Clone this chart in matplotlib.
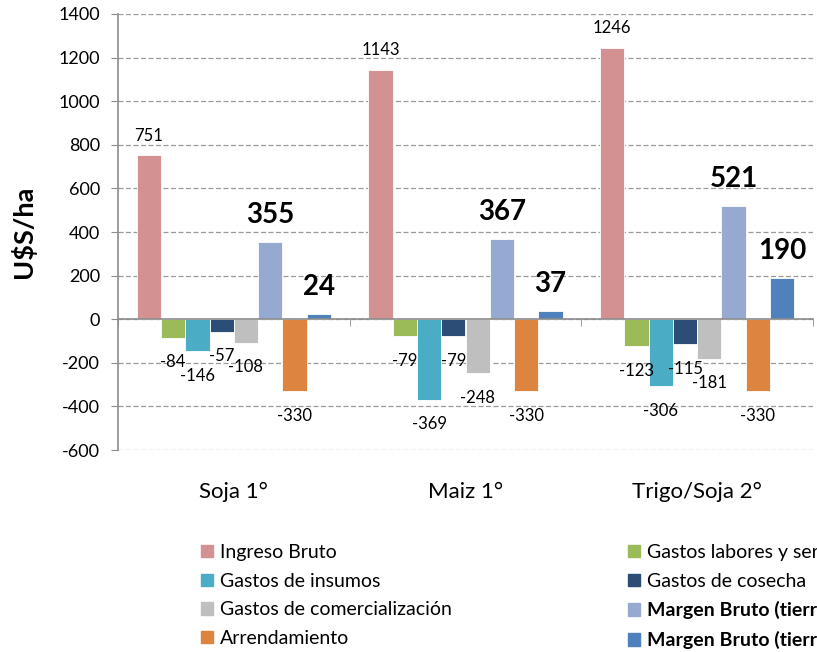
import numpy as np
import matplotlib
matplotlib.use("Agg")
import matplotlib.pyplot as plt
from matplotlib.patches import Patch

plt.rcParams["font.family"] = ["Lato", "DejaVu Sans"]
plt.rcParams["axes.unicode_minus"] = False

categories = ["Soja 1°", "Maiz 1°", "Trigo/Soja 2°"]
series = [
    "Ingreso Bruto",
    "Gastos labores y servicios",
    "Gastos de insumos",
    "Gastos de cosecha",
    "Gastos de comercialización",
    "Margen Bruto (tierra propia)",
    "Arrendamiento",
    "Margen Bruto (tierra arrendada)",
]
ingreso = [751, 1143, 1246]
labores = [-84, -79, -123]
insumos = [-146, -369, -306]
cosecha = [-57, -79, -115]
comercializacion = [-108, -248, -181]
margen_propia = [355, 367, 521]
arrendamiento = [-330, -330, -330]
margen_arrendada = [24, 37, 190]

values = [ingreso, labores, insumos, cosecha, comercializacion,
          margen_propia, arrendamiento, margen_arrendada]
colors = ["#D39291", "#9BBB59", "#4BACC6", "#2C4D75", "#BFBFBF",
          "#95A9D1", "#DD843F", "#4F81BD"]
bold = [False, False, False, False, False, True, False, True]

fig = plt.figure(figsize=(8.17, 6.52), dpi=100)
ax = fig.add_axes([118 / 817, 1 - 450 / 652, 695 / 817, 436 / 652])

x = np.arange(len(categories))
w = 0.105
n = len(series)
for i, (vals, col) in enumerate(zip(values, colors)):
    pos = x + (i - (n - 1) / 2) * w
    bars = ax.bar(pos, vals, w, color=col, edgecolor="white", linewidth=0.6,
                  label=series[i], zorder=3)
    for b, v in zip(bars, vals):
        cx = b.get_x() + b.get_width() / 2
        if bold[i]:
            ax.annotate(str(v), (cx, v), xytext=(0, 10), textcoords="offset points",
                        ha="center", va="bottom", fontsize=20, fontweight="bold",
                        zorder=4)
        else:
            off = 8.5 if v >= 0 else -12
            ax.annotate(str(v), (cx, v), xytext=(0, off), textcoords="offset points",
                        ha="center", va="bottom" if v >= 0 else "top",
                        fontsize=12, zorder=4)

ax.set_xlim(-0.5, 2.5)
ax.set_ylim(-600, 1400)
ax.set_yticks(np.arange(-600, 1401, 200))
ax.yaxis.grid(True, linestyle=(0, (4, 2)), color="#9A9A9A", linewidth=0.9, zorder=0)
ax.tick_params(axis="y", labelsize=13, length=5, color="#8C8C8C", pad=8)

for s in ["top", "right"]:
    ax.spines[s].set_visible(False)
ax.spines["left"].set_color("#8C8C8C")
ax.spines["left"].set_linewidth(1.2)
ax.spines["bottom"].set_position(("data", 0))
ax.spines["bottom"].set_color("#8C8C8C")
ax.spines["bottom"].set_linewidth(1.2)
ax.spines["bottom"].set_zorder(5)
ax.set_xticks(x)
ax.set_xticklabels([])
ax.tick_params(axis="x", which="major", length=0)
ax.set_xticks(np.arange(-0.5, 2.6, 1), minor=True)
ax.tick_params(axis="x", which="minor", length=5, color="#8C8C8C", direction="out")

for xi, c in zip(x, categories):
    ax.text(xi, -0.097, c, transform=ax.get_xaxis_transform(),
            ha="center", va="center", fontsize=16)

ax.set_ylabel("U$S/ha", fontsize=19.5, fontweight="bold", labelpad=16)

handles = [Patch(color=c) for c in colors]
leg_kw = dict(loc="upper left", frameon=False, fontsize=14, handlelength=0.62,
              handleheight=0.62, handletextpad=0.35, labelspacing=0.6,
              borderaxespad=0, borderpad=0)
for col_idx, x0 in [([0, 2, 4, 6], 201), ([1, 3, 5, 7], 628)]:
    leg = fig.legend([handles[i] for i in col_idx], [series[i] for i in col_idx],
                     bbox_to_anchor=(x0 / 817, 1 - 544 / 652), **leg_kw)
    for t, i in zip(leg.get_texts(), col_idx):
        if bold[i]:
            t.set_fontweight("bold")

fig.savefig("out.png", dpi=100)
